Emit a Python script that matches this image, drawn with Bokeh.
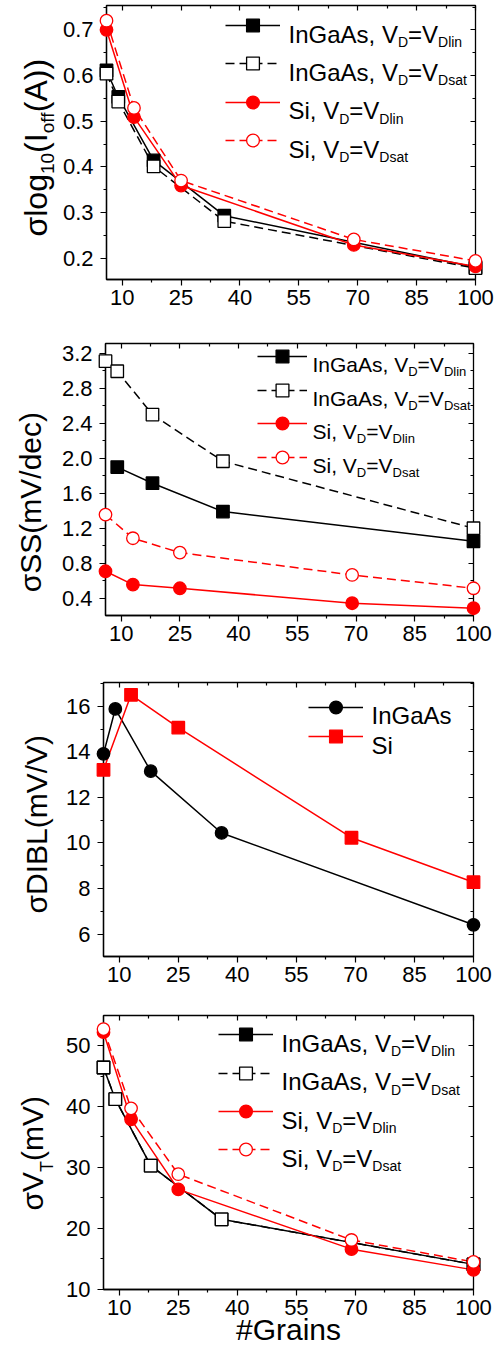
import math
from bokeh.plotting import figure
from bokeh.layouts import column, row
from bokeh.models import (FixedTicker, LinearAxis, Range1d, Label, Legend, LegendItem,
                          NumeralTickFormatter)
from bokeh.core.properties import value
from bokeh.embed import file_html
from bokeh.resources import INLINE

FONT = "Liberation Sans"
RED = "#ff0000"
BLACK = "#000000"

# ---------------- data ----------------
grains_ingaas = [6, 9, 18, 36, 100]
grains_ingaas_ss_lin = [9, 18, 36, 100]
grains_si = [6, 13, 25, 69, 100]

ioff_ingaas_lin = [0.611, 0.553, 0.414, 0.293, 0.180]
ioff_ingaas_sat = [0.604, 0.543, 0.401, 0.281, 0.178]
ioff_si_lin = [0.700, 0.509, 0.359, 0.229, 0.182]
ioff_si_sat = [0.720, 0.529, 0.370, 0.241, 0.194]

ss_ingaas_lin = [1.90, 1.716, 1.392, 1.053]
ss_ingaas_sat = [3.109, 2.994, 2.50, 1.967, 1.202]
ss_si_lin = [0.711, 0.559, 0.517, 0.346, 0.289]
ss_si_sat = [1.358, 1.088, 0.924, 0.669, 0.517]

dibl_ingaas = [13.91, 15.88, 13.15, 10.44, 6.41]
dibl_si = [13.21, 16.50, 15.06, 10.23, 8.28]

vt_ingaas_lin = [46.4, 41.2, 30.3, 21.5, 14.1]
vt_ingaas_sat = [46.4, 41.2, 30.3, 21.5, 14.1]
vt_si_lin = [52.2, 37.9, 26.4, 16.6, 13.2]
vt_si_sat = [52.7, 39.7, 28.9, 18.1, 14.5]

x_ticks = [10, 25, 40, 55, 70, 85, 100]
x_minor = [17.5, 32.5, 47.5, 62.5, 77.5, 92.5]

ioff_ticks = [0.2, 0.3, 0.4, 0.5, 0.6, 0.7]
ioff_minor = [0.15, 0.25, 0.35, 0.45, 0.55, 0.65, 0.75]
ss_ticks = [0.4, 0.8, 1.2, 1.6, 2.0, 2.4, 2.8, 3.2]
ss_minor = [0.2, 0.6, 1.0, 1.4, 1.8, 2.2, 2.6, 3.0]
dibl_ticks = [6, 8, 10, 12, 14, 16]
dibl_minor = [5, 7, 9, 11, 13, 15, 17]
vt_ticks = [10, 20, 30, 40, 50]
vt_minor = [15, 25, 35, 45, 55]

# Arial / Liberation Sans advance widths (per 1000 em)
ADV = {' ': 278, '#': 556, '(': 333, ')': 333, ',': 278, '.': 278, '/': 278,
       '=': 584, 'A': 667, 'B': 667, 'D': 722, 'G': 778, 'I': 278, 'L': 556,
       'S': 667, 'T': 611, 'V': 667, 'a': 556, 'c': 500, 'd': 556, 'e': 556,
       'f': 278, 'g': 556, 'i': 222, 'l': 222, 'm': 833, 'n': 556, 'o': 556,
       'r': 333, 's': 500, 't': 278, '\u03c3': 617}
for ch in "0123456789":
    ADV[ch] = 556
MID = (0.905 - 0.212) / 2       # middle of text box above baseline, in em

PAGE_R = 500
YLAB_W = 58                      # strip holding the rotated y titles
MAIN_L = YLAB_W                  # left edge of the plotting figures


def twidth(s, size):
    return sum(ADV.get(c, 556) for c in s) * size / 1000.0


def rich_h(p, fr, x_abs, base_abs, pieces, color=BLACK):
    left, right, top, bottom = fr
    x = x_abs
    for txt, size, dy in pieces:
        p.add_layout(Label(x=x - left, y=bottom - (base_abs + dy), x_units="screen",
                           y_units="screen", text=txt, text_font=FONT,
                           text_font_size=f"{size}px", text_color=color,
                           text_align="left", text_baseline="alphabetic"))
        x += twidth(txt, size)


def ylabel_strip(fig_top, fig_bottom, fr, base_x_abs, start_y_abs, pieces):
    # the strip's frame is aligned (top/bottom) with the neighbouring plot frame
    frame_bottom = fr[3]
    s = figure(width=YLAB_W, height=fig_bottom - fig_top, x_range=Range1d(0, 1),
               y_range=Range1d(0, 1), output_backend="svg", toolbar_location=None,
               x_axis_location=None, y_axis_location=None,
               min_border_left=0, min_border_right=0, min_border_top=0,
               min_border_bottom=0)
    s.outline_line_color = None
    s.xgrid.grid_line_color = None
    s.ygrid.grid_line_color = None
    s.background_fill_color = "white"
    s.border_fill_color = "white"
    y = start_y_abs
    for txt, size, dx in pieces:
        w = twidth(txt, size)
        cx = base_x_abs + dx - MID * size       # centre line of the rotated piece
        cy = y - w / 2
        s.add_layout(Label(x=cx, y=frame_bottom - cy, x_units="screen",
                           y_units="screen", text=txt, text_font=FONT,
                           text_font_size=f"{size}px", text_color=BLACK,
                           angle=math.pi / 2, text_align="center",
                           text_baseline="middle"))
        y -= w
    return s


def make_fig(fig_top, fig_bottom, fr, yr, yt, ym, fmt=None):
    left, right, top, bottom = fr
    p = figure(width=PAGE_R - MAIN_L, height=fig_bottom - fig_top,
               x_range=Range1d(6, 100), y_range=Range1d(*yr),
               output_backend="svg", toolbar_location=None,
               min_border_left=left - MAIN_L, min_border_right=PAGE_R - right,
               min_border_top=top - fig_top, min_border_bottom=fig_bottom - bottom)
    p.xgrid.grid_line_color = None
    p.ygrid.grid_line_color = None
    p.outline_line_color = BLACK
    p.outline_line_width = 1.3
    p.background_fill_color = "white"
    p.border_fill_color = "white"
    p.xaxis.ticker = FixedTicker(ticks=x_ticks, minor_ticks=x_minor)
    p.yaxis.ticker = FixedTicker(ticks=yt, minor_ticks=ym)
    if fmt:
        p.yaxis.formatter = NumeralTickFormatter(format=fmt)
    for ax in (p.xaxis, p.yaxis):
        ax.axis_line_color = BLACK
        ax.axis_line_width = 1.3
        ax.major_tick_line_width = 1.2
        ax.minor_tick_line_width = 1.2
        ax.major_tick_out = 6
        ax.major_tick_in = 0
        ax.minor_tick_out = 3
        ax.minor_tick_in = 0
        ax.major_label_text_font = FONT
        ax.major_label_text_font_size = "22px"
        ax.major_label_text_color = BLACK
    p.xaxis.major_label_standoff = 4
    p.yaxis.major_label_standoff = 7
    for place, tk in (("above", FixedTicker(ticks=x_ticks, minor_ticks=x_minor)),
                      ("right", FixedTicker(ticks=yt, minor_ticks=ym))):
        ax = LinearAxis(ticker=tk, axis_line_color=None, major_tick_in=5,
                        major_tick_out=0, minor_tick_in=3, minor_tick_out=0,
                        major_tick_line_width=1.2, minor_tick_line_width=1.2,
                        major_label_text_color=None, major_label_text_font_size="0px",
                        major_label_standoff=0)
        p.add_layout(ax, place)
    return p


def series(p, x, y, color, marker, filled, dashed):
    ln = p.line(x, y, line_color=color, line_width=1.5,
                line_dash="9 5" if dashed else "solid")
    sc = p.scatter(x, y, marker=marker, size=12.5, line_color=color, line_width=1.3,
                   fill_color=color if filled else "white", level="overlay")
    return [ln, sc]


def legend_row(p, fr, rends, sample_left, row_c, gw):
    left, right, top, bottom = fr
    gh = 32
    leg = Legend(items=[LegendItem(label=value(""), renderers=rends)],
                 location=(sample_left - left, bottom - (row_c + gh / 2)),
                 glyph_width=gw, glyph_height=gh, label_width=0, label_height=gh,
                 label_standoff=0, padding=0, spacing=0, margin=0,
                 border_line_color=None, background_fill_alpha=0,
                 label_text_font_size="1px")
    p.add_layout(leg)


def legend_texts(p, fr, text_x, rows, labels, main, sub, dy):
    for row_c, (a, b) in zip(rows, labels):
        base = row_c + 0.716 * main / 2
        rich_h(p, fr, text_x, base, [(a, main, 0), ("D", sub, dy), ("=V", main, 0), (b, sub, dy)])


four_labels = [("InGaAs, V", "Dlin"), ("InGaAs, V", "Dsat"), ("Si, V", "Dlin"), ("Si, V", "Dsat")]

# ---------------- panel 1: Ioff ----------------
fr1 = (106, 475, 5, 279)
p1 = make_fig(0, 330, fr1, (0.1533, 0.7533), ioff_ticks, ioff_minor, "0.0")
r = [series(p1, grains_ingaas, ioff_ingaas_lin, BLACK, "square", True, False),
     series(p1, grains_ingaas, ioff_ingaas_sat, BLACK, "square", False, True),
     series(p1, grains_si, ioff_si_lin, RED, "circle", True, False),
     series(p1, grains_si, ioff_si_sat, RED, "circle", False, True)]
rows1 = [25.3, 63.3, 101.7, 140]
for rr, rc in zip(r, rows1):
    legend_row(p1, fr1, rr, 225, rc, 55)
legend_texts(p1, fr1, 288, rows1, four_labels, 24, 14, 8)
y1 = ylabel_strip(0, 330, fr1, 47, 236, [("\u03c3log", 32, 0), ("10", 19, 7), ("(I", 32, 0),
                                         ("off", 19, 7), ("(A))", 32, 0)])

# ---------------- panel 2: SS ----------------
fr2 = (103, 473, 343, 615)
p2 = make_fig(330, 665, fr2, (0.206, 3.311), ss_ticks, ss_minor, "0.0")
r = [series(p2, grains_ingaas_ss_lin, ss_ingaas_lin, BLACK, "square", True, False),
     series(p2, grains_ingaas, ss_ingaas_sat, BLACK, "square", False, True),
     series(p2, grains_si, ss_si_lin, RED, "circle", True, False),
     series(p2, grains_si, ss_si_sat, RED, "circle", False, True)]
rows2 = [356, 390, 423.3, 457.3]
for rr, rc in zip(r, rows2):
    legend_row(p2, fr2, rr, 255, rc, 50)
legend_texts(p2, fr2, 310, rows2, four_labels, 21, 13, 7)
y2 = ylabel_strip(330, 665, fr2, 40, 591.7, [("\u03c3SS(mV/dec)", 30, 0)])

# ---------------- panel 3: DIBL ----------------
fr3 = (103, 473, 682, 956)
p3 = make_fig(665, 1000, fr3, (5.02, 17.04), dibl_ticks, dibl_minor)
r = [series(p3, grains_ingaas, dibl_ingaas, BLACK, "circle", True, False),
     series(p3, grains_si, dibl_si, RED, "square", True, False)]
rows3 = [706.7, 736]
for rr, rc in zip(r, rows3):
    legend_row(p3, fr3, rr, 308, rc, 55)
for rc, t in zip(rows3, ["InGaAs", "Si"]):
    rich_h(p3, fr3, 371, rc + 0.716 * 24 / 2, [(t, 24, 0)])
y3 = ylabel_strip(665, 1000, fr3, 46.7, 913, [("\u03c3DIBL(mV/V)", 30, 0)])

# ---------------- panel 4: VT ----------------
fr4 = (103, 473, 1015, 1289)
p4 = make_fig(1000, 1358, fr4, (9.98, 54.93), vt_ticks, vt_minor)
r = [series(p4, grains_ingaas, vt_ingaas_lin, BLACK, "square", True, False),
     series(p4, grains_ingaas, vt_ingaas_sat, BLACK, "square", False, True),
     series(p4, grains_si, vt_si_lin, RED, "circle", True, False),
     series(p4, grains_si, vt_si_sat, RED, "circle", False, True)]
rows4 = [1034.3, 1072.7, 1111, 1149.3]
for rr, rc in zip(r, rows4):
    legend_row(p4, fr4, rr, 218, rc, 55)
legend_texts(p4, fr4, 281, rows4, four_labels, 24, 14, 8)
xax = p4.below[0]
xax.axis_label = "#Grains"
xax.axis_label_text_font = FONT
xax.axis_label_text_font_size = "30px"
xax.axis_label_text_font_style = "normal"
xax.axis_label_text_color = BLACK
xax.axis_label_standoff = -5
y4 = ylabel_strip(1000, 1358, fr4, 42, 1210, [("\u03c3V", 30, 0), ("T", 18, 11), ("(mV)", 30, 0)])

layout = column(row(y1, p1), row(y2, p2), row(y3, p3), row(y4, p4))
open("out.html", "w").write(file_html(layout, INLINE))
